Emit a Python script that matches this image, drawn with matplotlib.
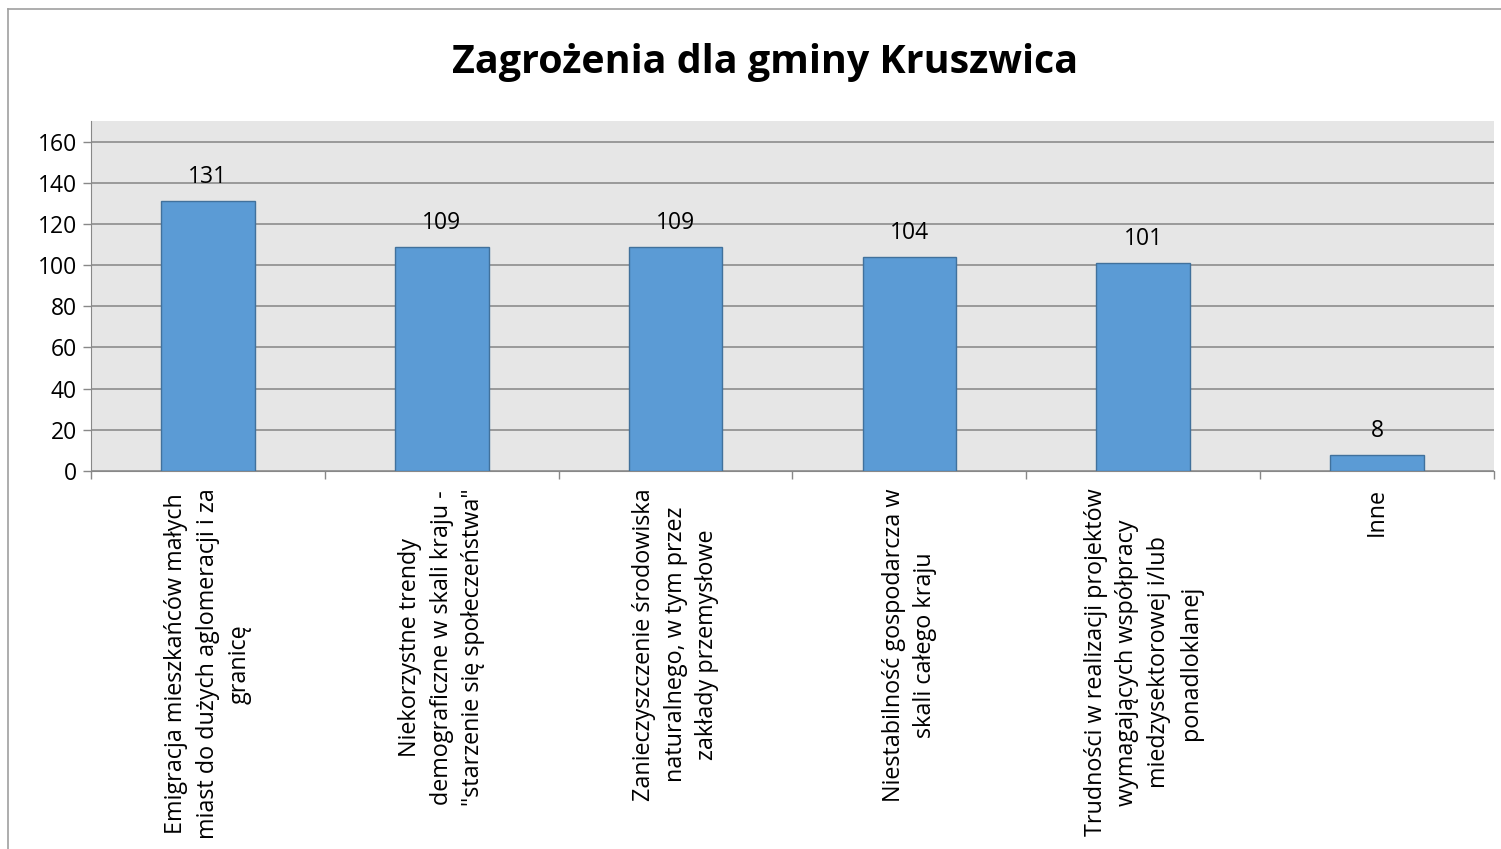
import numpy as np
import matplotlib
matplotlib.use('Agg')
import matplotlib.pyplot as plt
from matplotlib.lines import Line2D

plt.rcParams['font.family'] = ['Open Sans', 'DejaVu Sans']

categories = [
    'Emigracja mieszkańców małych\nmiast do dużych aglomeracji i za\ngranicę',
    'Niekorzystne trendy\ndemograficzne w skali kraju -\n"starzenie się społeczeństwa"',
    'Zanieczyszczenie środowiska\nnaturalnego, w tym przez\nzakłady przemysłowe',
    'Niestabilność gospodarcza w\nskali całego kraju',
    'Trudności w realizacji projektów\nwymagających współpracy\nmiedzysektorowej i/lub\nponadloklanej',
    'Inne',
]
values = [131, 109, 109, 104, 101, 8]
yticks = [0, 20, 40, 60, 80, 100, 120, 140, 160]

W, H = 1501, 849
fig = plt.figure(figsize=(W / 100, H / 100), dpi=100)

# plot area in pixel coords
x0, x1, y0, y1 = 91, 1494, 121, 471
ax = fig.add_axes([x0 / W, (H - y1) / H, (x1 - x0) / W, (y1 - y0) / H])
ax.set_facecolor('#E6E6E6')

x = np.arange(len(values))
bars = ax.bar(x, values, width=0.4, color='#5B9BD5', edgecolor='#41719C', linewidth=1, zorder=3)
for xi, v in zip(x, values):
    ax.annotate(str(v), (xi, v), xytext=(0, 8.5), textcoords='offset points',
                ha='center', va='bottom', fontsize=16.5, color='black', zorder=4)

ax.set_xlim(-0.5, len(values) - 0.5)
ax.set_ylim(0, 170)
ax.set_yticks(yticks)
ax.tick_params(axis='y', labelsize=16.5, length=6, color='#888888', width=1, pad=4)
ax.grid(axis='y', color='#8C8C8C', linewidth=1.2, zorder=1)

ax.set_xticks(np.arange(len(values) + 1) - 0.5, minor=False)
ax.set_xticklabels([])
ax.tick_params(axis='x', length=6, color='#888888', width=1)
for xi, lab in zip(x, categories):
    ax.text(xi, -0.05, lab, transform=ax.get_xaxis_transform(), rotation=90,
            ha='center', va='top', multialignment='center', fontsize=16.8,
            linespacing=1.43)

for s in ['top', 'right']:
    ax.spines[s].set_visible(False)
ax.spines['left'].set_color('#888888')
ax.spines['bottom'].set_color('#888888')

fig.text(765 / W, 1 - 62 / H, 'Zagrożenia dla gminy Kruszwica', ha='center', va='center',
         fontsize=28.4, fontweight='bold')

# outer chart border
fig.add_artist(Line2D([8 / W, 1.0], [1 - 9 / H, 1 - 9 / H], color='#A0A0A0', linewidth=1.2,
                      transform=fig.transFigure))
fig.add_artist(Line2D([8 / W, 8 / W], [1 - 9 / H, 0.0], color='#A0A0A0', linewidth=1.2,
                      transform=fig.transFigure))

fig.savefig('out.png', dpi=100)
